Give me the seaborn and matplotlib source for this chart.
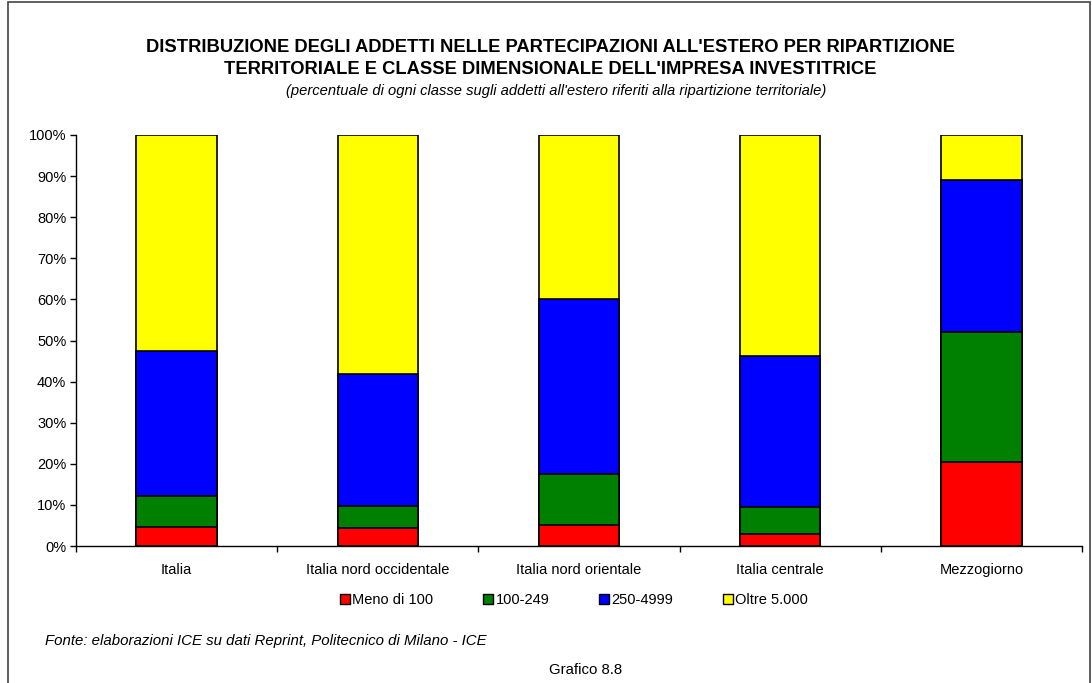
import numpy as np
import pandas as pd
import matplotlib
matplotlib.use('Agg')
import matplotlib.pyplot as plt
from matplotlib.patches import Rectangle, Patch
from matplotlib.ticker import PercentFormatter, FixedLocator
import seaborn as sns

# Data (percent of each region's foreign employees)
regions = ['Italia', 'Italia nord occidentale', 'Italia nord orientale',
           'Italia centrale', 'Mezzogiorno']
classes = ['Meno di 100', '100-249', '250-4999', 'Oltre 5.000']
meno_100 = [4.7, 4.3, 5.0, 2.9, 20.4]
da_100_249 = [7.5, 5.5, 12.5, 6.6, 31.7]
da_250_4999 = [35.3, 32.0, 42.6, 36.7, 37.0]
oltre_5000 = [52.5, 58.2, 39.9, 53.8, 10.9]
colors = ['#FF0000', '#008000', '#0000FF', '#FFFF00']

sns.set_theme(style='white')
plt.rcParams['font.family'] = ['Liberation Sans', 'DejaVu Sans']
plt.rcParams['text.color'] = 'black'
plt.rcParams['xtick.color'] = 'black'
plt.rcParams['ytick.color'] = 'black'

df = pd.DataFrame({'regione': regions, classes[0]: meno_100, classes[1]: da_100_249,
                   classes[2]: da_250_4999, classes[3]: oltre_5000})
cum = df[classes].cumsum(axis=1)

fig = plt.figure(figsize=(10.92, 6.83), dpi=100)
ax = fig.add_axes([76 / 1092, 137 / 683, 1006 / 1092, 411 / 683])

# stacked bars: draw cumulative totals from the top class down
for cls, col in zip(classes[::-1], colors[::-1]):
    sns.barplot(x=df['regione'], y=cum[cls], color=col, width=0.4, ax=ax,
                edgecolor='black', linewidth=1.2, saturation=1)

ax.set_ylim(0, 100)
ax.set_xlim(-0.5, 4.5)
ax.set_yticks(np.arange(0, 101, 10))
ax.yaxis.set_major_formatter(PercentFormatter(decimals=0))
ax.set_xlabel('')
ax.set_ylabel('')
ax.tick_params(axis='y', labelsize=10.5, length=4, direction='out', left=True,
               color='black', width=1, pad=3)
ax.tick_params(axis='x', which='major', labelsize=10.5, length=0, pad=12)
ax.xaxis.set_minor_locator(FixedLocator(np.arange(-0.5, 5, 1)))
ax.tick_params(axis='x', which='minor', length=4, direction='out', bottom=True,
               color='black', width=1)
for s in ['top', 'right']:
    ax.spines[s].set_visible(False)
for s in ['left', 'bottom']:
    ax.spines[s].set_color('black')
    ax.spines[s].set_linewidth(1)

handles = [Patch(facecolor=c, edgecolor='black', label=l) for c, l in zip(colors, classes)]
fig.legend(handles=handles, loc='center', bbox_to_anchor=(574 / 1092, 1 - 600 / 683),
           ncol=4, frameon=False, fontsize=10.5, handlelength=0.7, handleheight=0.7,
           handletextpad=0.15, columnspacing=3.4)

fig.text(550 / 1092, 1 - 47 / 683,
         "DISTRIBUZIONE DEGLI ADDETTI NELLE PARTECIPAZIONI ALL'ESTERO PER RIPARTIZIONE",
         ha='center', va='center', fontsize=13.2, fontweight='bold')
fig.text(550 / 1092, 1 - 70 / 683,
         "TERRITORIALE E CLASSE DIMENSIONALE DELL'IMPRESA INVESTITRICE",
         ha='center', va='center', fontsize=13.2, fontweight='bold')
fig.text(556 / 1092, 1 - 91 / 683,
         "(percentuale di ogni classe sugli addetti all'estero riferiti alla ripartizione territoriale)",
         ha='center', va='center', fontsize=10.6, style='italic')
fig.text(45 / 1092, 1 - 641 / 683,
         'Fonte: elaborazioni ICE su dati Reprint, Politecnico di Milano - ICE',
         ha='left', va='center', fontsize=10.8, style='italic')
fig.text(586 / 1092, 1 - 670 / 683, 'Grafico 8.8', ha='center', va='center', fontsize=10.8)

# chart frame
fig.patches.append(Rectangle((8 / 1092, -0.01), 1082 / 1092, 1.0 - 2 / 683 + 0.01,
                             transform=fig.transFigure, fill=False,
                             edgecolor='#444444', linewidth=1.2))

fig.savefig('out.png', dpi=100)
